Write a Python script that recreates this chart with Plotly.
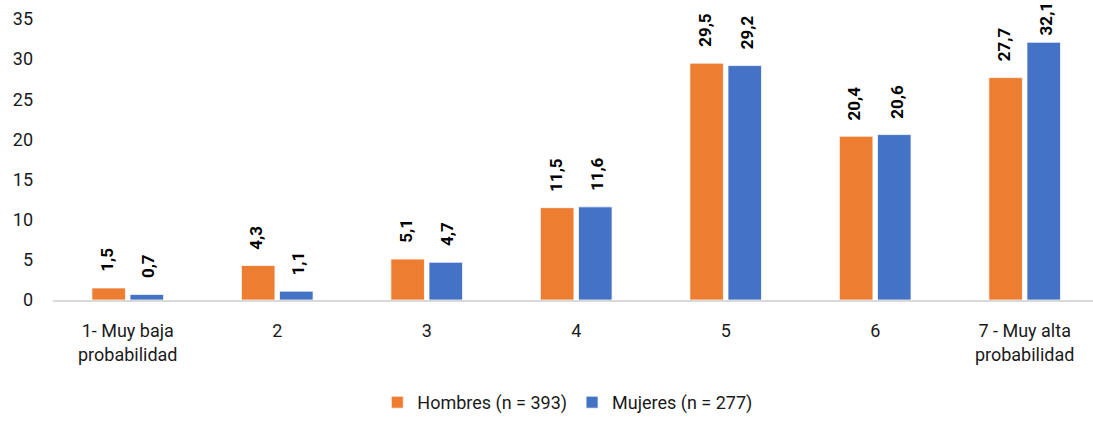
import plotly.graph_objects as go

categories = ["1- Muy baja<br>probabilidad", "2", "3", "4", "5", "6", "7 - Muy alta<br>probabilidad"]
hombres = [1.5, 4.3, 5.1, 11.5, 29.5, 20.4, 27.7]
mujeres = [0.7, 1.1, 4.7, 11.6, 29.2, 20.6, 32.1]
y_ticks = [0, 5, 10, 15, 20, 25, 30, 35]

ORANGE = "#ED7D31"
BLUE = "#4472C4"
FONT = "Roboto"
SIZE = 18

MARGIN_T, MARGIN_B, HEIGHT = 19, 118, 421
PLOT_H = HEIGHT - MARGIN_T - MARGIN_B
Y_MAX = 35
LABEL_GAP = 14      # px between bar top and its label
LABEL_LEN = 37      # approx. px length of a rotated label

fig = go.Figure()
fig.add_trace(go.Bar(x=categories, y=hombres, name="Hombres (n = 393)",
                     marker=dict(color=ORANGE, line=dict(color="white", width=0.75))))
fig.add_trace(go.Bar(x=categories, y=mujeres, name="Mujeres (n = 277)",
                     marker=dict(color=BLUE, line=dict(color="white", width=0.75))))

def fmt(v):
    return f"{v:.1f}".replace(".", ",")

# rotated value labels above each bar (x given as category index);
# a label that would run off the top is pinned to the top edge instead
px_per_unit = PLOT_H / Y_MAX
annotations = []
for i in range(len(categories)):
    for vals, shift in ((hombres, -21), (mujeres, 21)):
        v = vals[i]
        label = dict(x=i, xref="x", text=fmt(v), textangle=-90, showarrow=False,
                     xanchor="center", xshift=shift,
                     font=dict(family=FONT, size=17, color="black", weight="bold"))
        top_px = (Y_MAX - v) * px_per_unit + MARGIN_T - LABEL_GAP - LABEL_LEN
        if top_px < 0:
            label.update(yref="paper", y=1 + MARGIN_T / PLOT_H, yanchor="top")
        else:
            label.update(yref="y", y=v, yanchor="bottom", yshift=LABEL_GAP)
        annotations.append(label)

fig.update_layout(
    width=1093, height=HEIGHT,
    margin=dict(l=53, r=0, t=MARGIN_T, b=MARGIN_B),
    paper_bgcolor="white", plot_bgcolor="white",
    barmode="group", bargap=0.49, bargroupgap=0.12,
    font=dict(family=FONT, size=SIZE, color="#1a1a1a"),
    showlegend=True,
    legend=dict(orientation="h", x=0.495, xanchor="center", y=-0.365, yanchor="middle",
                font=dict(family=FONT, size=SIZE, color="#1a1a1a"),
                itemwidth=30, tracegroupgap=0),
    annotations=annotations,
)
# last category runs slightly past the right edge of the canvas
fig.update_xaxes(range=[-0.5, 6.457], showline=True, linecolor="#d9d9d9", linewidth=1.5,
                 showgrid=False, ticks="", ticklabelstandoff=14,
                 tickfont=dict(family=FONT, size=SIZE, color="#1a1a1a"))
fig.update_yaxes(range=[0, Y_MAX], tickvals=y_ticks, showgrid=False, zeroline=False,
                 showline=False, ticks="", ticklabelstandoff=19,
                 tickfont=dict(family=FONT, size=SIZE, color="#1a1a1a"))

fig.write_html("out.html")
